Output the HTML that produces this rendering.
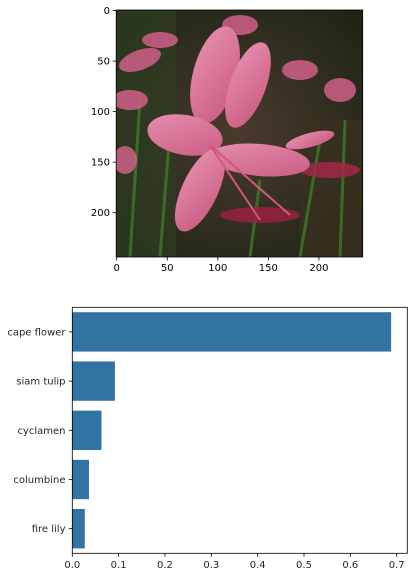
<!DOCTYPE html>
<html><head><meta charset="utf-8"><style>
body{margin:0;background:#fff;}
svg{display:block;font-family:"DejaVu Sans","Liberation Sans",sans-serif;}
</style></head><body>
<svg width="417" height="578" viewBox="0 0 417 578">
<defs>
<radialGradient id="bg" cx="0.5" cy="0.5" r="0.7">
<stop offset="0" stop-color="#4a3a2e"/><stop offset="1" stop-color="#1c2414"/></radialGradient>
<linearGradient id="pet" x1="0" y1="0" x2="1" y2="1"><stop offset="0" stop-color="#e890b0"/><stop offset="1" stop-color="#c85a80"/></linearGradient>
<clipPath id="imgclip"><rect x="116.2" y="10" width="246.5" height="247"/></clipPath>
</defs>
<g clip-path="url(#imgclip)">
<rect x="116.2" y="10" width="246.5" height="247" fill="url(#bg)"/>
<rect x="116" y="10" width="60" height="247" fill="#2f3d22" opacity="0.7"/>
<rect x="300" y="120" width="63" height="137" fill="#3a3020" opacity="0.7"/>
<g stroke="#3f7a2a" stroke-width="3" opacity="0.8">
<line x1="130" y1="257" x2="140" y2="100"/><line x1="160" y1="257" x2="170" y2="130"/><line x1="250" y1="257" x2="260" y2="180"/><line x1="300" y1="257" x2="320" y2="140"/><line x1="340" y1="257" x2="345" y2="120"/></g>
<g fill="#d0608a" opacity="0.85">
<ellipse cx="140" cy="60" rx="22" ry="10" transform="rotate(-20 140 60)"/>
<ellipse cx="160" cy="40" rx="18" ry="8"/>
<ellipse cx="130" cy="100" rx="18" ry="10"/>
<ellipse cx="125" cy="160" rx="12" ry="14"/>
<ellipse cx="300" cy="70" rx="18" ry="10"/>
<ellipse cx="340" cy="90" rx="16" ry="12"/>
<ellipse cx="240" cy="25" rx="18" ry="10"/>
<ellipse cx="330" cy="170" rx="30" ry="8" fill="#a02848"/>
<ellipse cx="260" cy="215" rx="40" ry="8" fill="#9a2040"/>
</g>
<g fill="url(#pet)">
<ellipse cx="215" cy="75" rx="22" ry="50" transform="rotate(15 215 75)"/>
<ellipse cx="248" cy="85" rx="18" ry="45" transform="rotate(20 248 85)"/>
<ellipse cx="185" cy="135" rx="38" ry="20" transform="rotate(10 185 135)"/>
<ellipse cx="260" cy="160" rx="50" ry="16" transform="rotate(5 260 160)"/>
<ellipse cx="200" cy="190" rx="18" ry="45" transform="rotate(25 200 190)"/>
<ellipse cx="310" cy="140" rx="25" ry="7" transform="rotate(-15 310 140)"/>
</g>
<g stroke="#d05878" stroke-width="2"><line x1="210" y1="145" x2="260" y2="220"/><line x1="210" y1="145" x2="290" y2="215"/></g>
</g>
<rect x="116.2" y="10" width="246.5" height="247" fill="none" stroke="#000" stroke-width="0.8"/>
<g id="imgticks" font-size="10" fill="#000"></g>
<g id="bars"></g>
<rect x="72.3" y="307.3" width="335" height="246" fill="none" stroke="#000" stroke-width="0.8"/>
</svg>
<script>
const categories=["cape flower","siam tulip","cyclamen","columbine","fire lily"];
const probs=[0.688,0.092,0.063,0.036,0.027];
const xTicks=[0,0.1,0.2,0.3,0.4,0.5,0.6,0.7];
const imgTicksX=[0,50,100,150,200];
const imgTicksY=[0,50,100,150,200];
const NS="http://www.w3.org/2000/svg";
function mk(t,a,p){const e=document.createElementNS(NS,t);for(const k in a)e.setAttribute(k,a[k]);p.appendChild(e);return e;}
const ix=v=>116.7+v*1.011, iy=v=>10.5+v*1.011;
const it=document.getElementById('imgticks');
imgTicksX.forEach(v=>{
 const l=mk('line',{x1:ix(v),x2:ix(v),y1:257,y2:260.5,stroke:'#000','stroke-width':0.8},it);
 
 
 const t=mk('text',{x:ix(v),y:271,'text-anchor':'middle'},it);t.textContent=v;
 
 
});
imgTicksY.forEach(v=>{
 const l=mk('line',{x1:112.7,x2:116.2,y1:iy(v),y2:iy(v),stroke:'#000','stroke-width':0.8},it);
 
 
 const t=mk('text',{x:110,y:iy(v)+3.5,'text-anchor':'end'},it);t.textContent=v;
 
 
});
const x0=72.3,pxPer=463.4,yTop=307.3,band=49.2;
const xs=v=>x0+v*pxPer, yc=i=>yTop+band*(i+0.5);
const g=document.getElementById('bars');
categories.forEach((c,i)=>{
 const r=mk('rect',{x:x0,y:yc(i)-band*0.4,width:xs(probs[i])-x0,height:band*0.8,fill:'#3274a1'},g);
 
 
 mk('line',{x1:68.8,x2:72.3,y1:yc(i),y2:yc(i),stroke:'#000','stroke-width':0.8},g);
 const t=mk('text',{x:65.5,y:yc(i)+3.5,'text-anchor':'end','font-size':10,fill:'#262626'},g);t.textContent=c;
 
 
});
xTicks.forEach(v=>{
 mk('line',{x1:xs(v),x2:xs(v),y1:553.3,y2:556.8,stroke:'#000','stroke-width':0.8},g);
 const t=mk('text',{x:xs(v),y:568,'text-anchor':'middle','font-size':10,fill:'#262626'},g);t.textContent=v.toFixed(1);
 
 
});
</script>
</body></html>
